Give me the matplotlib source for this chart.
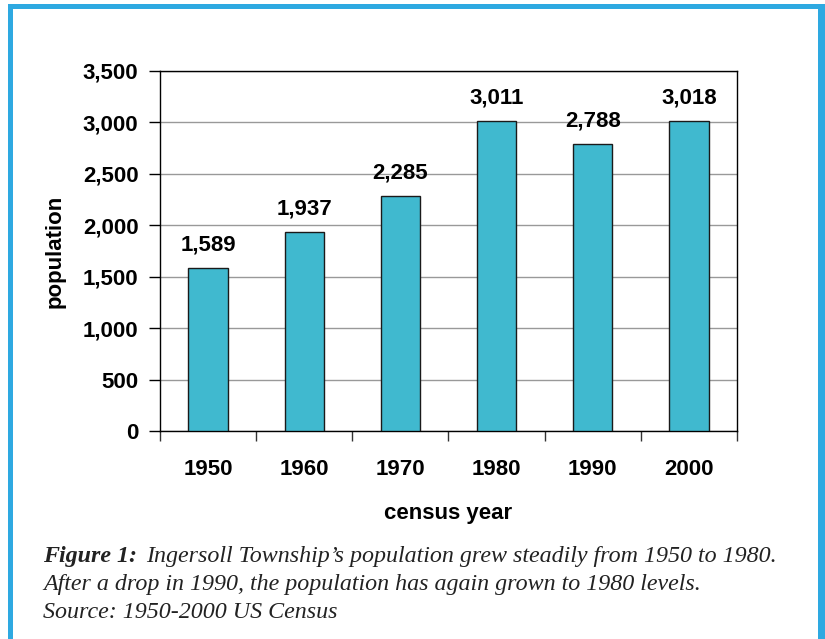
import numpy as np
import matplotlib.pyplot as plt
from matplotlib.patches import Rectangle

## data
years = ['1950', '1960', '1970', '1980', '1990', '2000']
population = [1589, 1937, 2285, 3011, 2788, 3018]
y_ticks = [0, 500, 1000, 1500, 2000, 2500, 3000, 3500]

W, H = 825, 639
fig = plt.figure(figsize=(W / 100, H / 100), dpi=100)
plt.rcParams['font.family'] = ['Liberation Sans', 'DejaVu Sans']

# blue frame round the figure (left, top, right; bottom is cut off)
blue = '#2EA9E1'
for (x0, y0, w, h) in [(8, 4, 5, 635), (8, 4, 817, 5), (818, 4, 7, 635)]:
    fig.patches.append(Rectangle((x0 / W, 1 - (y0 + h) / H), w / W, h / H,
                                 transform=fig.transFigure, color=blue, lw=0))

ax = fig.add_axes([160 / W, 1 - 431 / H, 577 / W, 360 / H])
x = np.arange(len(years))
ax.bar(x, population, width=0.41, color='#40B9CF', edgecolor='#1a1a1a', linewidth=1.0, zorder=3)

for xi, v in zip(x, population):
    ax.annotate('{:,}'.format(v), (xi, v), xytext=(0, 9), textcoords='offset points',
                ha='center', va='bottom', fontsize=16, fontweight='bold')

ax.set_xlim(-0.5, len(years) - 0.5)
ax.set_ylim(0, 3500)
ax.set_yticks(y_ticks)
ax.set_yticklabels(['{:,}'.format(t) for t in y_ticks], fontsize=16, fontweight='bold')
ax.yaxis.grid(True, color='#999999', linewidth=1.0, zorder=0)

# category ticks sit between bars
ax.set_xticks(np.arange(-0.5, len(years), 1.0))
ax.set_xticklabels([])
ax.set_xticks(x, minor=True)
ax.set_xticklabels(years, minor=True, fontsize=16, fontweight='bold')
ax.tick_params(axis='x', which='major', direction='out', length=7, width=1, color='#333333')
ax.tick_params(axis='x', which='minor', length=0, pad=20.5)
ax.tick_params(axis='y', direction='out', length=8, width=1, pad=7.5)

for s in ax.spines.values():
    s.set_color('black')
    s.set_linewidth(1.0)

ax.set_ylabel('population', fontsize=16, fontweight='bold', labelpad=12.5)
ax.set_xlabel('census year', fontsize=16, fontweight='bold', labelpad=16)

# caption
cap = dict(family='Liberation Serif', style='italic', fontsize=17.3, color='#222222')
t1 = fig.text(43 / W, 1 - 562 / H, 'Figure 1:', fontweight='bold', **cap)
r = fig.canvas.get_renderer()
bb = t1.get_window_extent(renderer=r)
fig.text((bb.x1 + 9) / W, 1 - 562 / H, 'Ingersoll Township\u2019s population grew steadily from 1950 to 1980.', **cap)
fig.text(43 / W, 1 - 590 / H, 'After a drop in 1990, the population has again grown to 1980 levels.', **cap)
fig.text(43 / W, 1 - 618 / H, 'Source: 1950-2000 US Census', **cap)

fig.savefig('out.png', dpi=100)
